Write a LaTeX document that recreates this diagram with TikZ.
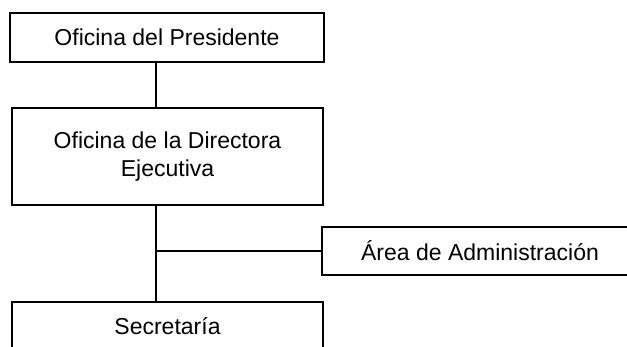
\documentclass[tikz,border=0pt]{standalone}
\usepackage{fontspec}
\setmainfont{Liberation Sans}
\usepackage{tikz}
\usetikzlibrary{
  positioning,
  calc,
  }

\begin{document}
\begin{tikzpicture}[x=1pt, y=-1pt,
                every node/.style={draw, line width=1.6pt, align=center,
                    inner sep=0pt, font=\fontsize{23}{28}\selectfont},
                conector/.style={line width=1.6pt}]
                \useasboundingbox (0,0) rectangle (627,346);
                \node[minimum width=314pt, minimum height=49pt] (pres) at (167,37.5) {Oficina del Presidente};
                \node[minimum width=311pt, minimum height=97pt] (dir) at (167.5,156.5) {Oficina de la Directora\\Ejecutiva};
                \node[minimum width=316pt, minimum height=48pt] (area) at (480,251) {\'Area de Administraci\'on};
                \node[minimum width=311pt, minimum height=48pt] (secr) at (167.5,326) {Secretar\'ia};
                \coordinate (tronco) at (156,0);

                \draw[conector] (pres.south -| tronco) -- (dir.north -| tronco);
                \draw[conector] (dir.south -| tronco) -- (secr.north -| tronco);
                \draw[conector] (area.west) -- (area.west -| tronco);
            \end{tikzpicture}
\end{document}
